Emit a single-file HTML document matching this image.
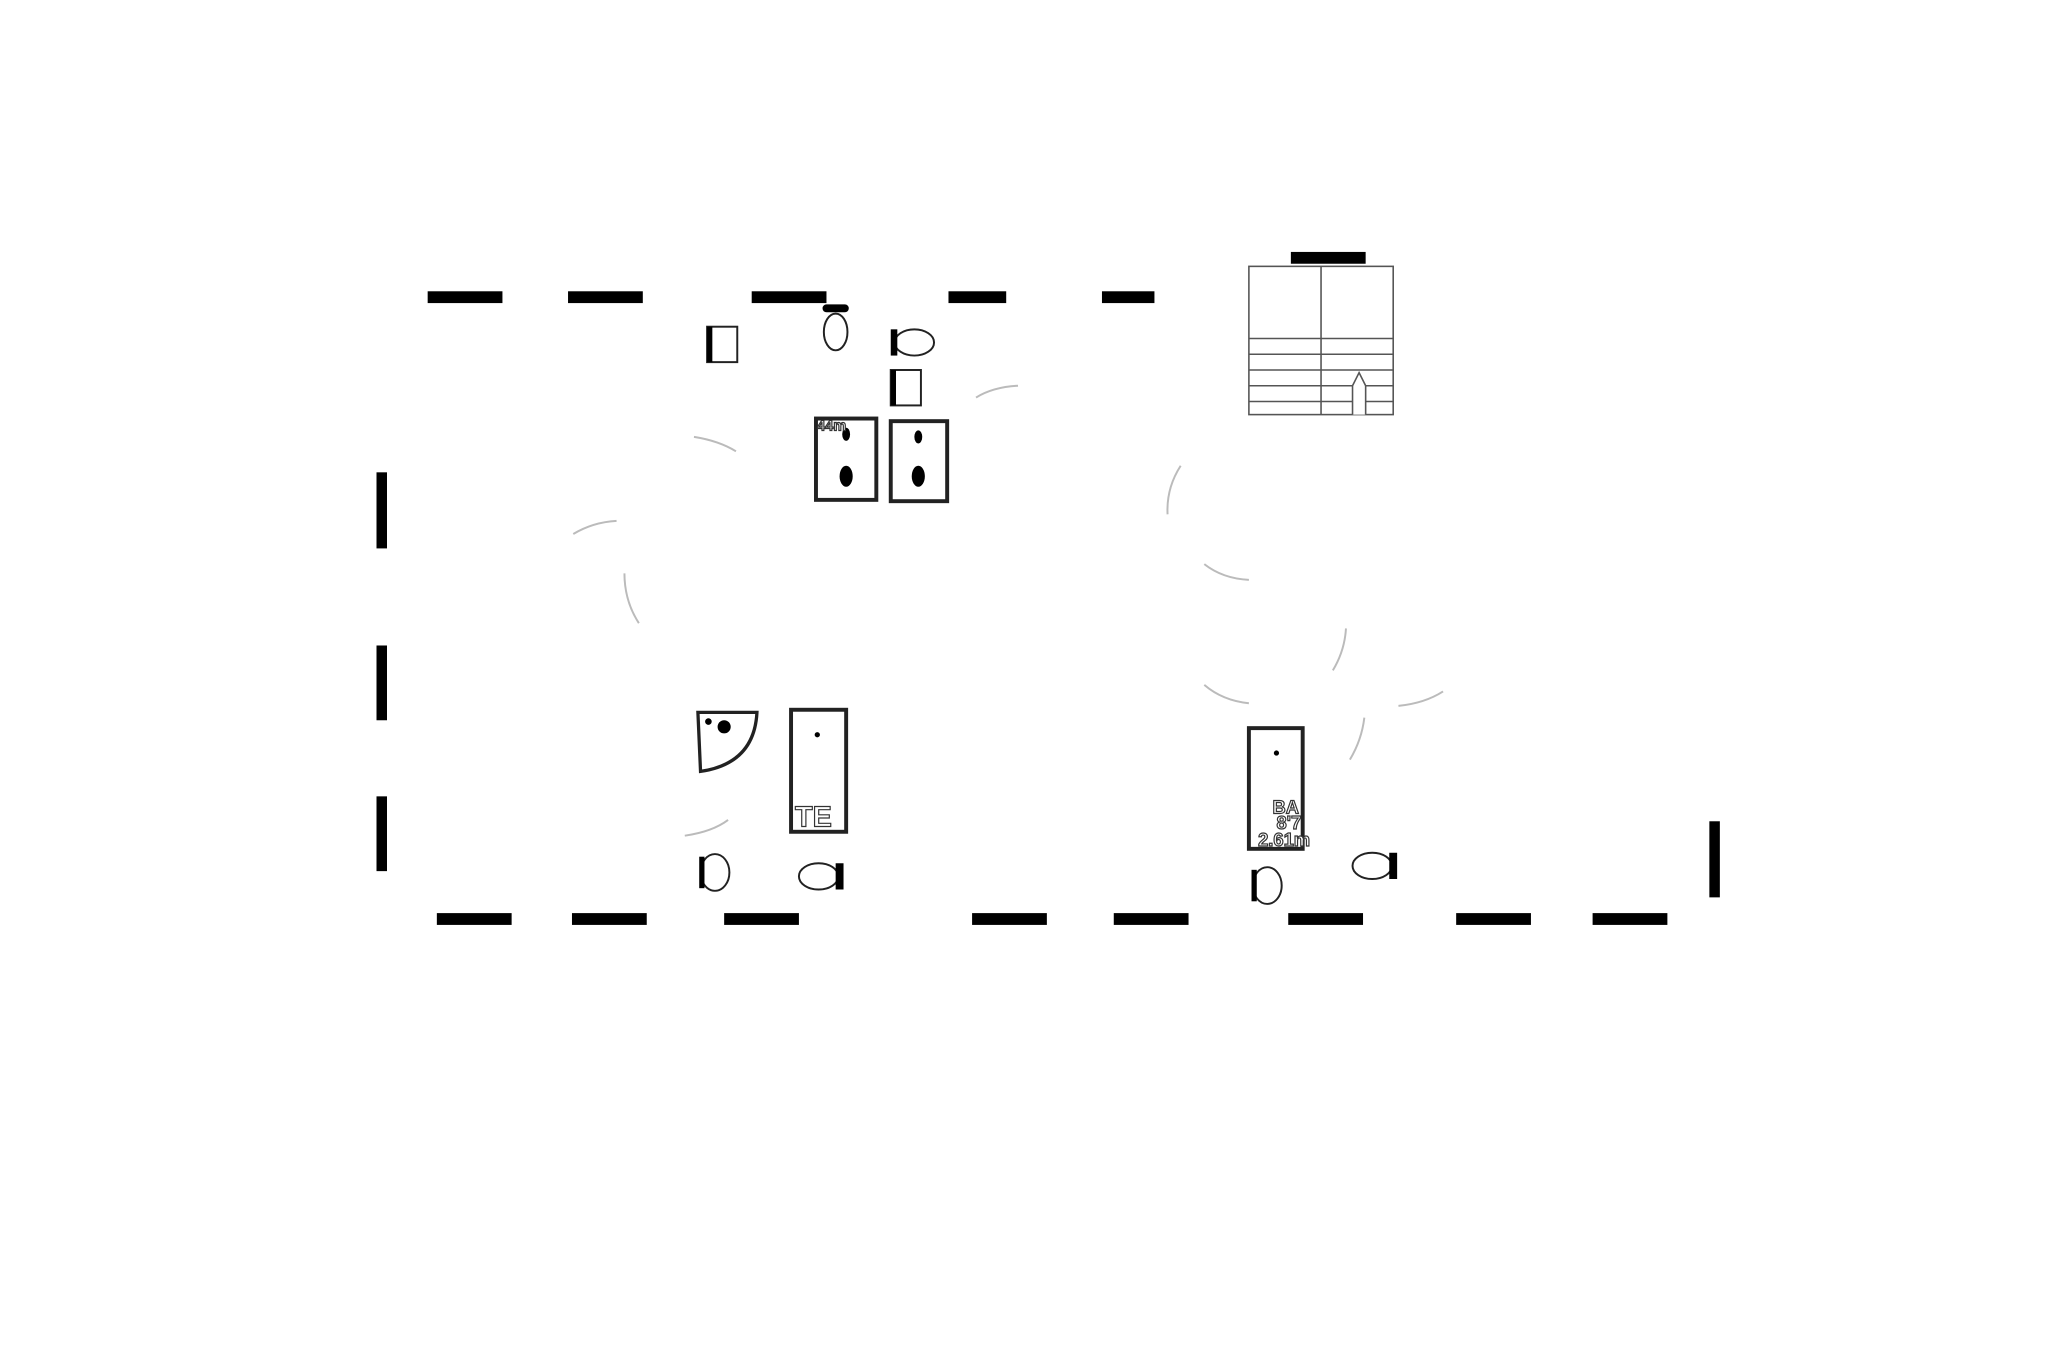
<!DOCTYPE html>
<html><head><style>html,body{margin:0;padding:0;background:#fff}svg{display:block}</style></head>
<body>
<svg width="2057" height="1371" viewBox="0 0 1568 1045" xmlns="http://www.w3.org/2000/svg">
<rect width="1568" height="1045" fill="#fff"/>
<g fill="#000">
<rect x="326" y="222" width="57" height="9"/>
<rect x="433" y="222" width="57" height="9"/>
<rect x="573" y="222" width="57" height="9"/>
<rect x="723" y="222" width="44" height="9"/>
<rect x="840" y="222" width="40" height="9"/>
<rect x="984" y="192" width="57" height="9"/>
<rect x="287" y="360" width="8" height="58"/>
<rect x="287" y="492" width="8" height="57"/>
<rect x="287" y="607" width="8" height="57"/>
<rect x="333" y="696" width="57" height="9"/>
<rect x="436" y="696" width="57" height="9"/>
<rect x="552" y="696" width="57" height="9"/>
<rect x="741" y="696" width="57" height="9"/>
<rect x="849" y="696" width="57" height="9"/>
<rect x="982" y="696" width="57" height="9"/>
<rect x="1110" y="696" width="57" height="9"/>
<rect x="1214" y="696" width="57" height="9"/>
<rect x="1303" y="626" width="8" height="58"/>
</g>
<g fill="none" stroke="#555" stroke-width="1.2">
<rect x="952" y="203" width="110" height="113"/>
<line x1="1007" y1="203" x2="1007" y2="316"/>
<line x1="952" y1="258" x2="1062" y2="258"/>
<line x1="952" y1="270" x2="1062" y2="270"/>
<line x1="952" y1="282" x2="1062" y2="282"/>
<line x1="952" y1="294" x2="1062" y2="294"/>
<line x1="952" y1="306" x2="1062" y2="306"/>
<path d="M1031 316 V294 L1036 284 L1041 294 V316" fill="#fff"/>
</g>
<g fill="none" stroke="#bbb" stroke-width="1.5">
<path d="M529 333 Q548 336 561 344"/>
<path d="M437 407 Q452 398 470 397"/>
<path d="M476 437 Q476 458 487 475"/>
<path d="M744 303 Q757 295 776 294"/>
<path d="M900 355 Q889 372 890 392"/>
<path d="M918 430 Q932 441 952 442"/>
<path d="M1026 479 Q1025 496 1016 511"/>
<path d="M918 522 Q932 534 952 536"/>
<path d="M1100 527 Q1086 536 1066 538"/>
<path d="M1040 547 Q1038 564 1029 579"/>
<path d="M555 625 Q543 634 522 637"/>
</g>
<g fill="none" stroke="#222" stroke-width="1.5">
<rect x="539" y="249" width="23" height="27"/>
<rect x="679" y="282" width="23" height="27"/>
<ellipse cx="637" cy="253" rx="9" ry="14"/>
<ellipse cx="697" cy="261" rx="15" ry="10"/>
<ellipse cx="1046" cy="660" rx="15" ry="10"/>
<ellipse cx="624" cy="668" rx="15" ry="10"/>
<ellipse cx="545" cy="665" rx="11" ry="14"/>
<ellipse cx="966" cy="675" rx="11" ry="14"/>
<rect x="622" y="319" width="46" height="62" stroke-width="3"/>
<rect x="679" y="321" width="43" height="61" stroke-width="3"/>
<path d="M532 543 H577 Q575 582 534 588 Z" stroke-width="2.5"/>
<rect x="603" y="541" width="42" height="93" stroke-width="3"/>
<rect x="952" y="555" width="41" height="92" stroke-width="3"/>
</g>
<g fill="#000">
<rect x="539" y="249" width="4" height="27"/>
<rect x="679" y="282" width="4" height="27"/>
<rect x="533" y="653" width="4" height="24"/>
<rect x="954" y="663" width="4" height="24"/>
<rect x="627" y="232" width="20" height="6" rx="3"/>
<rect x="679" y="251" width="5" height="20"/>
<rect x="1059" y="650" width="6" height="20"/>
<rect x="637" y="658" width="6" height="20"/>
<ellipse cx="645" cy="363" rx="5" ry="8"/><ellipse cx="645" cy="331" rx="3" ry="5"/>
<ellipse cx="700" cy="363" rx="5" ry="8"/><ellipse cx="700" cy="333" rx="3" ry="5"/>
<circle cx="552" cy="554" r="5"/><circle cx="540" cy="550" r="2.5"/>
<circle cx="623" cy="560" r="2"/><circle cx="973" cy="574" r="2"/>
</g>
<g font-family="Liberation Sans, sans-serif" font-weight="bold" fill="#fff" stroke="#333" stroke-width="0.9">
<text x="606" y="630" font-size="22">TE</text>
<text x="970" y="620" font-size="14">BA</text>
<text x="973" y="632" font-size="14">8'7</text>
<text x="959" y="645" font-size="14">2.61m</text>
<text x="623" y="328" font-size="11">44m</text>
</g>
</svg>
</body></html>
